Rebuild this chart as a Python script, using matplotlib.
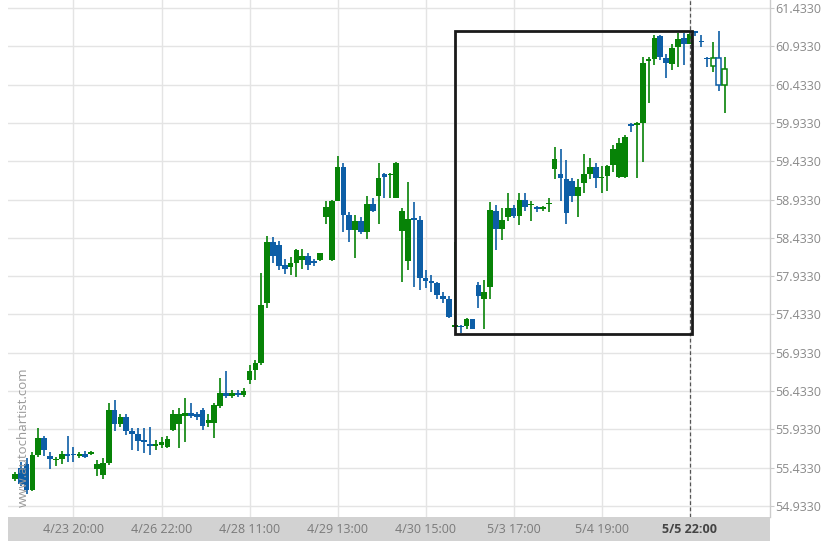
import matplotlib
matplotlib.use("Agg")
import matplotlib.pyplot as plt
from matplotlib.patches import Rectangle
import numpy as np

# ---- data ----
opens = [55.29, 55.433, 55.485, 55.14, 55.60, 55.82, 55.59, 55.53, 55.55, 55.61,
         55.61, 55.59, 55.61, 55.61, 55.42, 55.34, 55.50, 56.19, 56.00, 56.09,
         55.91, 55.87, 55.78, 55.73, 55.72, 55.73, 55.70, 55.93, 56.00, 56.11,
         56.15, 56.14, 56.18, 56.01, 56.01, 56.24, 56.41, 56.37, 56.41, 56.38,
         56.58, 56.71, 56.80, 57.58, 58.38, 58.34, 58.08, 58.05, 58.10, 58.15,
         58.20, 58.13, 58.14, 58.71, 58.14, 58.92, 59.36, 58.73, 58.53, 58.65,
         58.51, 58.88, 58.98, 59.27, 59.25, 58.96, 58.52, 58.13, 58.69, 58.67,
         57.91, 57.87, 57.84, 57.67, 57.64, 57.275, 57.28, 57.28, 57.37, 57.82,
         57.64, 57.79, 58.78, 58.55, 58.70, 58.82, 58.72, 58.93, 58.86, 58.84,
         58.815, 58.87, 59.33, 59.27, 59.20, 59.18, 58.98, 59.15, 59.27, 59.36,
         59.21, 59.24, 59.38, 59.23, 59.23, 59.91, 59.91, 59.93, 60.74, 60.77,
         61.07, 60.78, 60.70, 60.92, 61.04, 60.97, 61.12, 61.00, 60.78, 60.68,
         60.78, 60.43]
closes = [55.355, 55.22, 55.14, 55.60, 55.82, 55.66, 55.55, 55.545, 55.61, 55.59,
          55.60, 55.60, 55.57, 55.64, 55.48, 55.50, 56.19, 56.00, 56.09, 55.91,
          55.87, 55.78, 55.77, 55.72, 55.73, 55.77, 55.81, 56.14, 56.14, 56.15,
          56.11, 56.09, 55.98, 56.06, 56.25, 56.41, 56.37, 56.41, 56.38, 56.43,
          56.69, 56.80, 57.56, 58.38, 58.20, 58.06, 58.03, 58.10, 58.28, 58.20,
          58.08, 58.10, 58.23, 58.84, 58.92, 59.36, 58.73, 58.53, 58.65, 58.51,
          58.88, 58.78, 59.22, 59.23, 59.26, 59.41, 58.78, 58.68, 58.67, 57.91,
          57.87, 57.84, 57.69, 57.64, 57.40, 57.285, 57.27, 57.38, 57.25, 57.67,
          57.73, 58.80, 58.55, 58.67, 58.82, 58.72, 58.93, 58.83, 58.865, 58.81,
          58.825, 58.88, 59.46, 59.22, 58.76, 58.98, 59.10, 59.27, 59.36, 59.21,
          59.22, 59.37, 59.59, 59.67, 59.75, 59.90, 59.92, 60.71, 60.77, 61.04,
          60.79, 60.71, 60.91, 61.03, 60.97, 61.09, 61.11, 60.99, 60.77, 60.78,
          60.43, 60.64]
highs = [55.38, 55.51, 55.56, 55.64, 55.95, 55.85, 55.64, 55.57, 55.65, 55.85,
         55.70, 55.64, 55.65, 55.65, 55.53, 55.56, 56.28, 56.32, 56.13, 56.13,
         55.95, 55.95, 55.95, 55.96, 55.79, 55.83, 55.85, 56.19, 56.21, 56.34,
         56.28, 56.16, 56.21, 56.13, 56.28, 56.60, 56.69, 56.45, 56.45, 56.47,
         56.78, 56.84, 57.97, 58.46, 58.45, 58.39, 58.16, 58.19, 58.29, 58.29,
         58.23, 58.16, 58.24, 58.92, 58.93, 59.50, 59.41, 58.77, 58.73, 58.71,
         58.98, 58.95, 59.41, 59.28, 59.28, 59.42, 58.82, 59.16, 58.90, 58.72,
         58.01, 57.95, 57.86, 57.73, 57.67, 58.38, 57.29, 57.39, 57.38, 57.86,
         57.88, 58.90, 58.86, 58.82, 59.02, 58.86, 59.02, 59.02, 58.92, 58.85,
         58.85, 58.95, 59.62, 59.60, 59.45, 59.22, 59.20, 59.53, 59.48, 59.41,
         59.37, 59.38, 59.64, 59.74, 59.78, 59.93, 59.95, 60.79, 60.79, 61.08,
         61.08, 60.84, 60.97, 61.11, 61.11, 61.13, 61.14, 61.08, 60.79, 60.99,
         61.14, 60.79]
lows = [55.26, 55.19, 55.09, 55.13, 55.57, 55.59, 55.41, 55.46, 55.48, 55.51,
        55.51, 55.56, 55.56, 55.60, 55.33, 55.29, 55.47, 55.91, 55.97, 55.86,
        55.66, 55.65, 55.62, 55.60, 55.66, 55.69, 55.69, 55.91, 55.69, 55.77,
        56.08, 56.06, 55.93, 55.97, 55.82, 56.21, 56.34, 56.34, 56.36, 56.36,
        56.52, 56.58, 56.78, 57.52, 58.11, 58.01, 57.96, 57.95, 57.92, 58.03,
        58.01, 58.06, 58.13, 58.62, 58.13, 58.92, 58.51, 58.38, 58.17, 58.48,
        58.42, 58.77, 58.62, 58.96, 58.95, 58.95, 57.86, 58.01, 57.79, 57.75,
        57.78, 57.73, 57.64, 57.58, 57.39, 57.27, 57.19, 57.24, 57.24, 57.52,
        57.25, 57.64, 58.27, 58.41, 58.66, 58.69, 58.60, 58.78, 58.66, 58.77,
        58.78, 58.77, 59.20, 58.92, 58.62, 58.90, 58.70, 59.02, 59.20, 59.08,
        59.02, 59.04, 59.29, 59.21, 59.21, 59.82, 59.21, 59.43, 60.19, 60.69,
        60.75, 60.52, 60.62, 60.67, 60.69, 60.96, 61.07, 60.92, 60.67, 60.60,
        60.35, 60.06]
hollow_from = 119  # candles after the pattern are drawn hollow

tick_pos = [10, 25, 40, 55, 70, 85, 100, 115]
tick_labels = ["4/23 20:00", "4/26 22:00", "4/28 11:00", "4/29 13:00",
               "4/30 15:00", "5/3 17:00", "5/4 19:00", "5/5 22:00"]
y_ticks = [54.933 + 0.5 * k for k in range(14)]

box_x = (75.0, 115.4)
box_y = (57.178, 61.134)
marker_x = 115

GREEN = "#078307"
BLUE = "#0d5ea6"

plt.rcParams['font.family'] = ['Open Sans', 'DejaVu Sans']

W, H = 822, 548
fig = plt.figure(figsize=(W / 100, H / 100), dpi=100)
fig.patch.set_facecolor("white")

L, R, T, B = 8, 770, 0, 517
ax = fig.add_axes([L / W, (H - B) / H, (R - L) / W, (B - T) / H])
ax.set_facecolor("white")
ax.set_xlim(-1.16, 128.7)
ax.set_ylim(54.789, 61.539)

# grid
for yv in y_ticks:
    ax.axhline(yv, color="#e4e4e4", lw=1.0, zorder=0)
for xv in tick_pos:
    ax.axvline(xv, color="#e4e4e4", lw=1.0, zorder=0)

# candles
n = len(opens)
idx = np.arange(n)
for i in idx:
    o, c, h, l = opens[i], closes[i], highs[i], lows[i]
    col = GREEN if c >= o else BLUE
    ax.vlines(i, l, h, color=col, lw=1.2, zorder=2)
    bot = min(o, c)
    ht = max(abs(c - o), 0.018)
    if i >= hollow_from:
        ax.bar(i, ht, bottom=bot, width=0.85, facecolor="white",
               edgecolor=col, lw=1.1, zorder=3)
    else:
        ax.bar(i, ht, bottom=bot, width=0.97, color=col, lw=0, zorder=3)

# pattern box
ax.add_patch(Rectangle((box_x[0], box_y[0]), box_x[1] - box_x[0],
                       box_y[1] - box_y[0], fill=False, edgecolor="#1a1a1a",
                       lw=2.0, zorder=5))
# time marker
ax.axvline(marker_x, color="#555555", lw=0.9, ls=(0, (3, 2)), zorder=4)

# axes styling
for s in ["top", "left", "bottom"]:
    ax.spines[s].set_visible(False)
ax.spines["right"].set_color("#cccccc")
ax.spines["right"].set_linewidth(1.0)
ax.yaxis.tick_right()
ax.set_yticks(y_ticks)
ax.set_yticklabels([f"{v:.4f}" for v in y_ticks])
ax.tick_params(axis="y", length=3, color="#cccccc", labelcolor="#8a8a8a",
               labelsize=9, pad=1)
ax.set_xticks([])

# watermark
ax.text(0.012, 0.02, "www.autochartist.com", transform=ax.transAxes,
        rotation=90, fontsize=9.5, color="#9a9a9a", ha="left", va="bottom",
        zorder=6)

# date band
bax = fig.add_axes([L / W, (H - 541) / H, (R - L) / W, 24 / H])
bax.set_facecolor("#d2d2d2")
bax.set_xlim(ax.get_xlim())
bax.set_ylim(0, 1)
for s in bax.spines.values():
    s.set_visible(False)
bax.set_xticks([])
bax.set_yticks([])
for p, lab in zip(tick_pos, tick_labels):
    last = lab == tick_labels[-1]
    bax.text(p, 0.48, lab, ha="center", va="center", fontsize=9,
             color="#444444" if last else "#7a7a7a",
             fontweight="bold" if last else "normal")

fig.savefig("out.png", dpi=100, facecolor="white")
